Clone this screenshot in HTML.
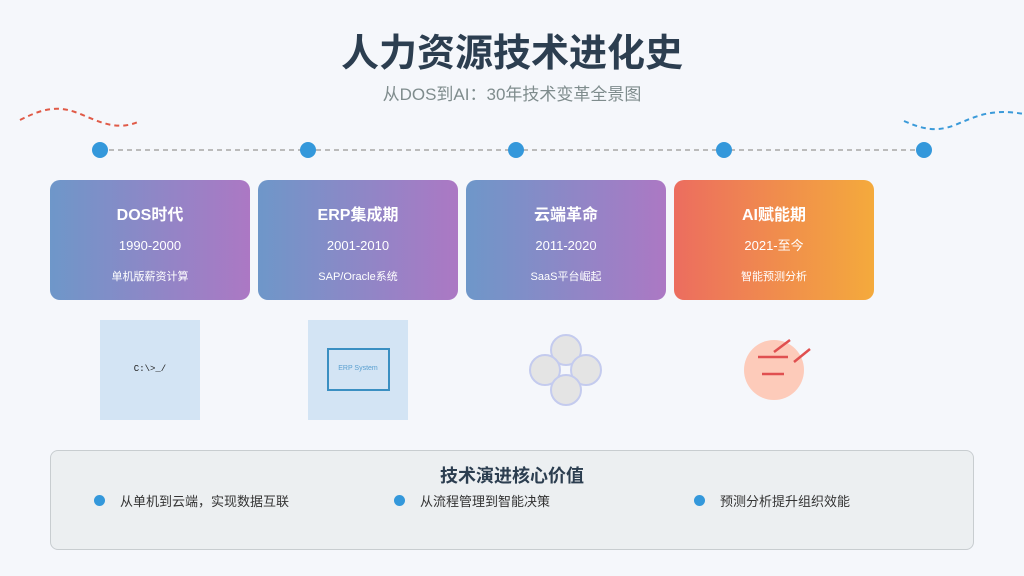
<!DOCTYPE html>
<html><head><meta charset="utf-8"><style>
*{margin:0;padding:0;box-sizing:border-box}
body{width:1024px;height:576px;background:#f5f7fb;font-family:"Liberation Sans","Noto Sans CJK SC",sans-serif;position:relative;overflow:hidden}
.t{position:absolute;left:0;width:1024px;text-align:center}
.card{position:absolute;top:180px;width:200px;height:120px;border-radius:10px;color:#fff;text-align:center;background:linear-gradient(90deg,#6e97c9,#ac78c4)}
.card div{position:absolute;left:0;width:200px;line-height:20px}
.card .h{top:26px;font-size:16px;font-weight:bold}
.card .y{top:56px;font-size:13px}
.card .d{top:87px;font-size:11px}
.dot{position:absolute;top:142px;width:16px;height:16px;border-radius:50%;background:#3498db}
.li{position:absolute;top:493px;font-size:13px;color:#333;line-height:18px}
.li:before{content:"";position:absolute;left:-26px;top:2px;width:11px;height:11px;border-radius:50%;background:#3498db}
</style></head><body>
<div class="t" style="top:22px;font-size:38px;font-weight:bold;color:#2c3e50">人力资源技术进化史</div>
<div class="t" style="top:83px;font-size:17px;color:#7f8c8d;line-height:24px">从DOS到AI：30年技术变革全景图</div>
<svg style="position:absolute;left:0;top:0" width="1024" height="576">
<path d="M20 120 C40 110 55 105 75 112 S115 133 140 121" fill="none" stroke="#e05a47" stroke-width="2" stroke-dasharray="5,4"/>
<path d="M904 121 C920 128 935 133 955 125 S990 108 1024 114" fill="none" stroke="#3a9ad9" stroke-width="2" stroke-dasharray="5,4"/>
<line x1="100" y1="150" x2="924" y2="150" stroke="#bbb" stroke-width="2" stroke-dasharray="5,4"/>
<rect x="100" y="320" width="100" height="100" fill="#d3e4f4"/>
<text x="150" y="371" font-size="9" text-anchor="middle" fill="#222" font-family="Liberation Mono,monospace">C:\&gt;_/</text>
<rect x="308" y="320" width="100" height="100" fill="#d3e4f4"/>
<rect x="328" y="349" width="61" height="41" fill="none" stroke="#3a8fc2" stroke-width="2"/>
<text x="358" y="370" font-size="7" text-anchor="middle" fill="#5aa0d0">ERP System</text>
<g fill="#e4e4e4" stroke="#c4cbee" stroke-width="2">
<ellipse cx="566" cy="350" rx="15" ry="15"/><ellipse cx="545" cy="370" rx="15" ry="15"/><ellipse cx="586" cy="370" rx="15" ry="15"/><ellipse cx="566" cy="390" rx="15" ry="15"/></g>
<ellipse cx="774" cy="370" rx="30" ry="30" fill="#fdcbba"/>
<g stroke="#e05050" stroke-width="2.5"><line x1="758" y1="357" x2="788" y2="357"/><line x1="762" y1="374" x2="784" y2="374"/><line x1="774" y1="352" x2="790" y2="340"/><line x1="794" y1="362" x2="810" y2="349"/></g>
</svg>
<div class="dot" style="left:92px"></div><div class="dot" style="left:300px"></div><div class="dot" style="left:508px"></div><div class="dot" style="left:716px"></div><div class="dot" style="left:916px"></div>
<div class="card" style="left:50px"><div class="h">DOS时代</div><div class="y">1990-2000</div><div class="d">单机版薪资计算</div></div>
<div class="card" style="left:258px"><div class="h">ERP集成期</div><div class="y">2001-2010</div><div class="d">SAP/Oracle系统</div></div>
<div class="card" style="left:466px"><div class="h">云端革命</div><div class="y">2011-2020</div><div class="d">SaaS平台崛起</div></div>
<div class="card" style="left:674px;background:linear-gradient(90deg,#ec6d5f,#f4aa3c)"><div class="h">AI赋能期</div><div class="y">2021-至今</div><div class="d">智能预测分析</div></div>
<div style="position:absolute;left:50px;top:450px;width:924px;height:100px;border:1px solid #c8cdd0;border-radius:8px;background:#eceff1"></div>
<div class="t" style="top:462px;font-size:18px;font-weight:bold;color:#2c3e50">技术演进核心价值</div>
<div class="li" style="left:120px">从单机到云端，实现数据互联</div>
<div class="li" style="left:420px">从流程管理到智能决策</div>
<div class="li" style="left:720px">预测分析提升组织效能</div>
</body></html>
